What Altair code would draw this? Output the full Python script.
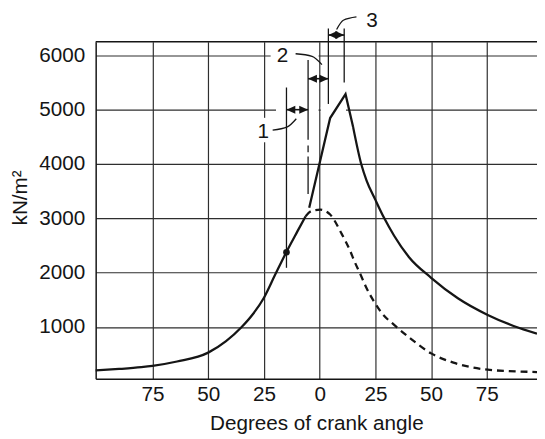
import altair as alt
import pandas as pd

# ---------------- data ----------------
# crank angle in degrees (negative = before TDC), pressure in kN/m2
comp_angle = [-100.5, -90, -80, -75, -64, -50, -42, -35, -30, -25, -20, -15, -10, -6.3]
comp_p = [200, 228, 262, 286, 366, 529, 740, 1000, 1235, 1540, 1960, 2375, 2760, 3040]

motor_angle = [-6.3, -3.4, 0.3, 4.7, 9.8, 13.5, 15.7, 18, 21, 24.6, 28, 33.4, 40.8, 50, 60, 75.4, 85, 97.5]
motor_p = [3040, 3140, 3160, 3070, 2720, 2418, 2200, 1996, 1720, 1453, 1250, 1040, 788, 515, 345, 214, 190, 172]

comb_angle = [-4.7, 4.7, 11.6, 15.0]
comb_p = [3195, 4846, 5285, 4680]

expan_angle = [15.0, 18.7, 21, 25, 29, 33.4, 40, 50, 62, 75.4, 87, 97.5]
expan_p = [4680, 3990, 3700, 3340, 3000, 2680, 2290, 1906, 1530, 1223, 1020, 879]

dot_angle = [-14.9]
dot_p = [2377]

x_ticks = [-75, -50, -25, 0, 25, 50, 75]
y_ticks = [1000, 2000, 3000, 4000, 5000, 6000]
XMIN, XMAX = -100.5, 97.5
YMIN, YMAX = 50, 6250

# annotation construction lines (angle, from, to)
vline_angle = [-14.9, -5.2, -5.2, -5.2, 3.9, 11.0]
vline_p = [2090, 5915, 4339, 4139, 5105, 5498]
vline_p2 = [5408, 4447, 4217, 3446, 6494, 6494]

# double arrows 1, 2, 3 (left angle, right angle, level)
arrow_left = [-14.9, -5.2, 3.9]
arrow_right = [-5.2, 3.9, 11.0]
arrow_p = [5000, 5570, 6373]

label_text = ["1", "2", "3"]
label_angle = [-25.3, -16.7, 23.5]
label_p = [4589, 5980, 6630]

leader_id = [1, 1, 1, 2, 2, 2, 3, 3, 3]
leader_angle = [-21.1, -14.5, -10.5, -10.8, -3.4, 1.0, 7.6, 10.6, 16.5]
leader_p = [4623, 4683, 4833, 6029, 5982, 5830, 6476, 6645, 6707]

# white patches where the grid is interrupted around the labels
mask_x = [-27.6, -19.6, 0.5, -22.0]
mask_x2 = [-23.0, -0.5, 11.8, -0.5]
mask_p = [4400, 4950, 4950, 5950]
mask_p2 = [4850, 5050, 5050, 6050]

# ---------------- chart ----------------
FONT = "Liberation Sans"
FS = 21
INK = "#151515"
GRID = "#2e2e2e"

xscale = alt.Scale(domain=[XMIN, XMAX], nice=False, zero=False)
yscale = alt.Scale(domain=[YMIN, YMAX], nice=False, zero=False)

xaxis = alt.Axis(values=x_ticks, labelExpr="'' + abs(datum.value)", grid=True,
                 ticks=False, tickSize=0, labelPadding=5, titlePadding=9,
                 labelOverlap=False, labelFlush=False)
yaxis = alt.Axis(values=y_ticks, format="d", grid=True, ticks=False, tickSize=0,
                 labelPadding=11, titlePadding=8, titleY=158, labelOverlap=False)


def X(field="angle"):
    return alt.X(field, type="quantitative", scale=xscale, axis=xaxis,
                 title="Degrees of crank angle")


def Y(field="p"):
    return alt.Y(field, type="quantitative", scale=yscale, axis=yaxis, title="kN/m²")


comp_df = pd.DataFrame({"angle": comp_angle, "p": comp_p})
motor_df = pd.DataFrame({"angle": motor_angle, "p": motor_p})
comb_df = pd.DataFrame({"angle": comb_angle, "p": comb_p})
expan_df = pd.DataFrame({"angle": expan_angle, "p": expan_p})
dot_df = pd.DataFrame({"angle": dot_angle, "p": dot_p})
vline_df = pd.DataFrame({"angle": vline_angle, "p": vline_p, "p2": vline_p2})
arrow_df = pd.DataFrame({"angle": arrow_left, "angle2": arrow_right, "p": arrow_p})
head_l_df = pd.DataFrame({"angle": arrow_left, "p": arrow_p})
head_r_df = pd.DataFrame({"angle": arrow_right, "p": arrow_p})
label_df = pd.DataFrame({"angle": label_angle, "p": label_p, "t": label_text})
leader_df = pd.DataFrame({"id": leader_id, "angle": leader_angle, "p": leader_p})
mask_df = pd.DataFrame({"angle": mask_x, "angle2": mask_x2, "p": mask_p, "p2": mask_p2})
top_df = pd.DataFrame({"p": [YMAX]})

masks = alt.Chart(mask_df).mark_rect(color="white", opacity=1).encode(
    x=X(), x2=alt.X2("angle2"), y=Y(), y2=alt.Y2("p2"))

top_border = alt.Chart(top_df).mark_rule(color=INK, strokeWidth=1.5).encode(y=Y())

comp = alt.Chart(comp_df).mark_line(color=INK, strokeWidth=2.3, interpolate="monotone").encode(
    x=X(), y=Y())
motor = alt.Chart(motor_df).mark_line(color=INK, strokeWidth=2.3, interpolate="monotone",
                                      strokeDash=[7, 5]).encode(x=X(), y=Y())
comb = alt.Chart(comb_df).mark_line(color=INK, strokeWidth=2.3, interpolate="linear",
                                    strokeJoin="miter").encode(x=X(), y=Y())
expan = alt.Chart(expan_df).mark_line(color=INK, strokeWidth=2.3, interpolate="monotone").encode(
    x=X(), y=Y())
dot = alt.Chart(dot_df).mark_point(filled=True, color=INK, opacity=1, size=45).encode(x=X(), y=Y())

vlines = alt.Chart(vline_df).mark_rule(color=INK, strokeWidth=1.3, clip=False).encode(
    x=X(), y=Y(), y2=alt.Y2("p2"))
shafts = alt.Chart(arrow_df).mark_rule(color=INK, strokeWidth=1.6, clip=False).encode(
    x=X(), x2=alt.X2("angle2"), y=Y())
heads_l = alt.Chart(head_l_df).mark_point(shape="M0,0L2,-0.9L2,0.9Z", filled=True, color=INK,
                                          opacity=1, size=81, clip=False).encode(x=X(), y=Y())
heads_r = alt.Chart(head_r_df).mark_point(shape="M0,0L-2,-0.9L-2,0.9Z", filled=True, color=INK,
                                          opacity=1, size=81, clip=False).encode(x=X(), y=Y())
leaders = alt.Chart(leader_df).mark_line(color=INK, strokeWidth=1.3, interpolate="monotone",
                                         clip=False).encode(x=X(), y=Y(), detail="id:N")
labels = alt.Chart(label_df).mark_text(font=FONT, fontSize=FS, color=INK, align="center",
                                       baseline="middle", clip=False).encode(
    x=X(), y=Y(), text="t:N")

chart = alt.layer(
    masks, top_border, comp, motor, comb, expan, dot, vlines, shafts, heads_l, heads_r,
    leaders, labels
).properties(
    width=448, height=342,
    padding={"left": 89, "top": 31, "right": 0, "bottom": 58},
    autosize=alt.AutoSizeParams(type="none"),
).configure_view(stroke=None).configure_axis(
    labelFont=FONT, titleFont=FONT, labelFontSize=FS, titleFontSize=FS,
    labelColor=INK, titleColor=INK, titleFontWeight="normal",
    domainColor=INK, domainWidth=1.5, gridColor=GRID, gridWidth=1.2, gridOpacity=1,
)

chart.save("out.html", embed_options={"renderer": "svg", "actions": False})
